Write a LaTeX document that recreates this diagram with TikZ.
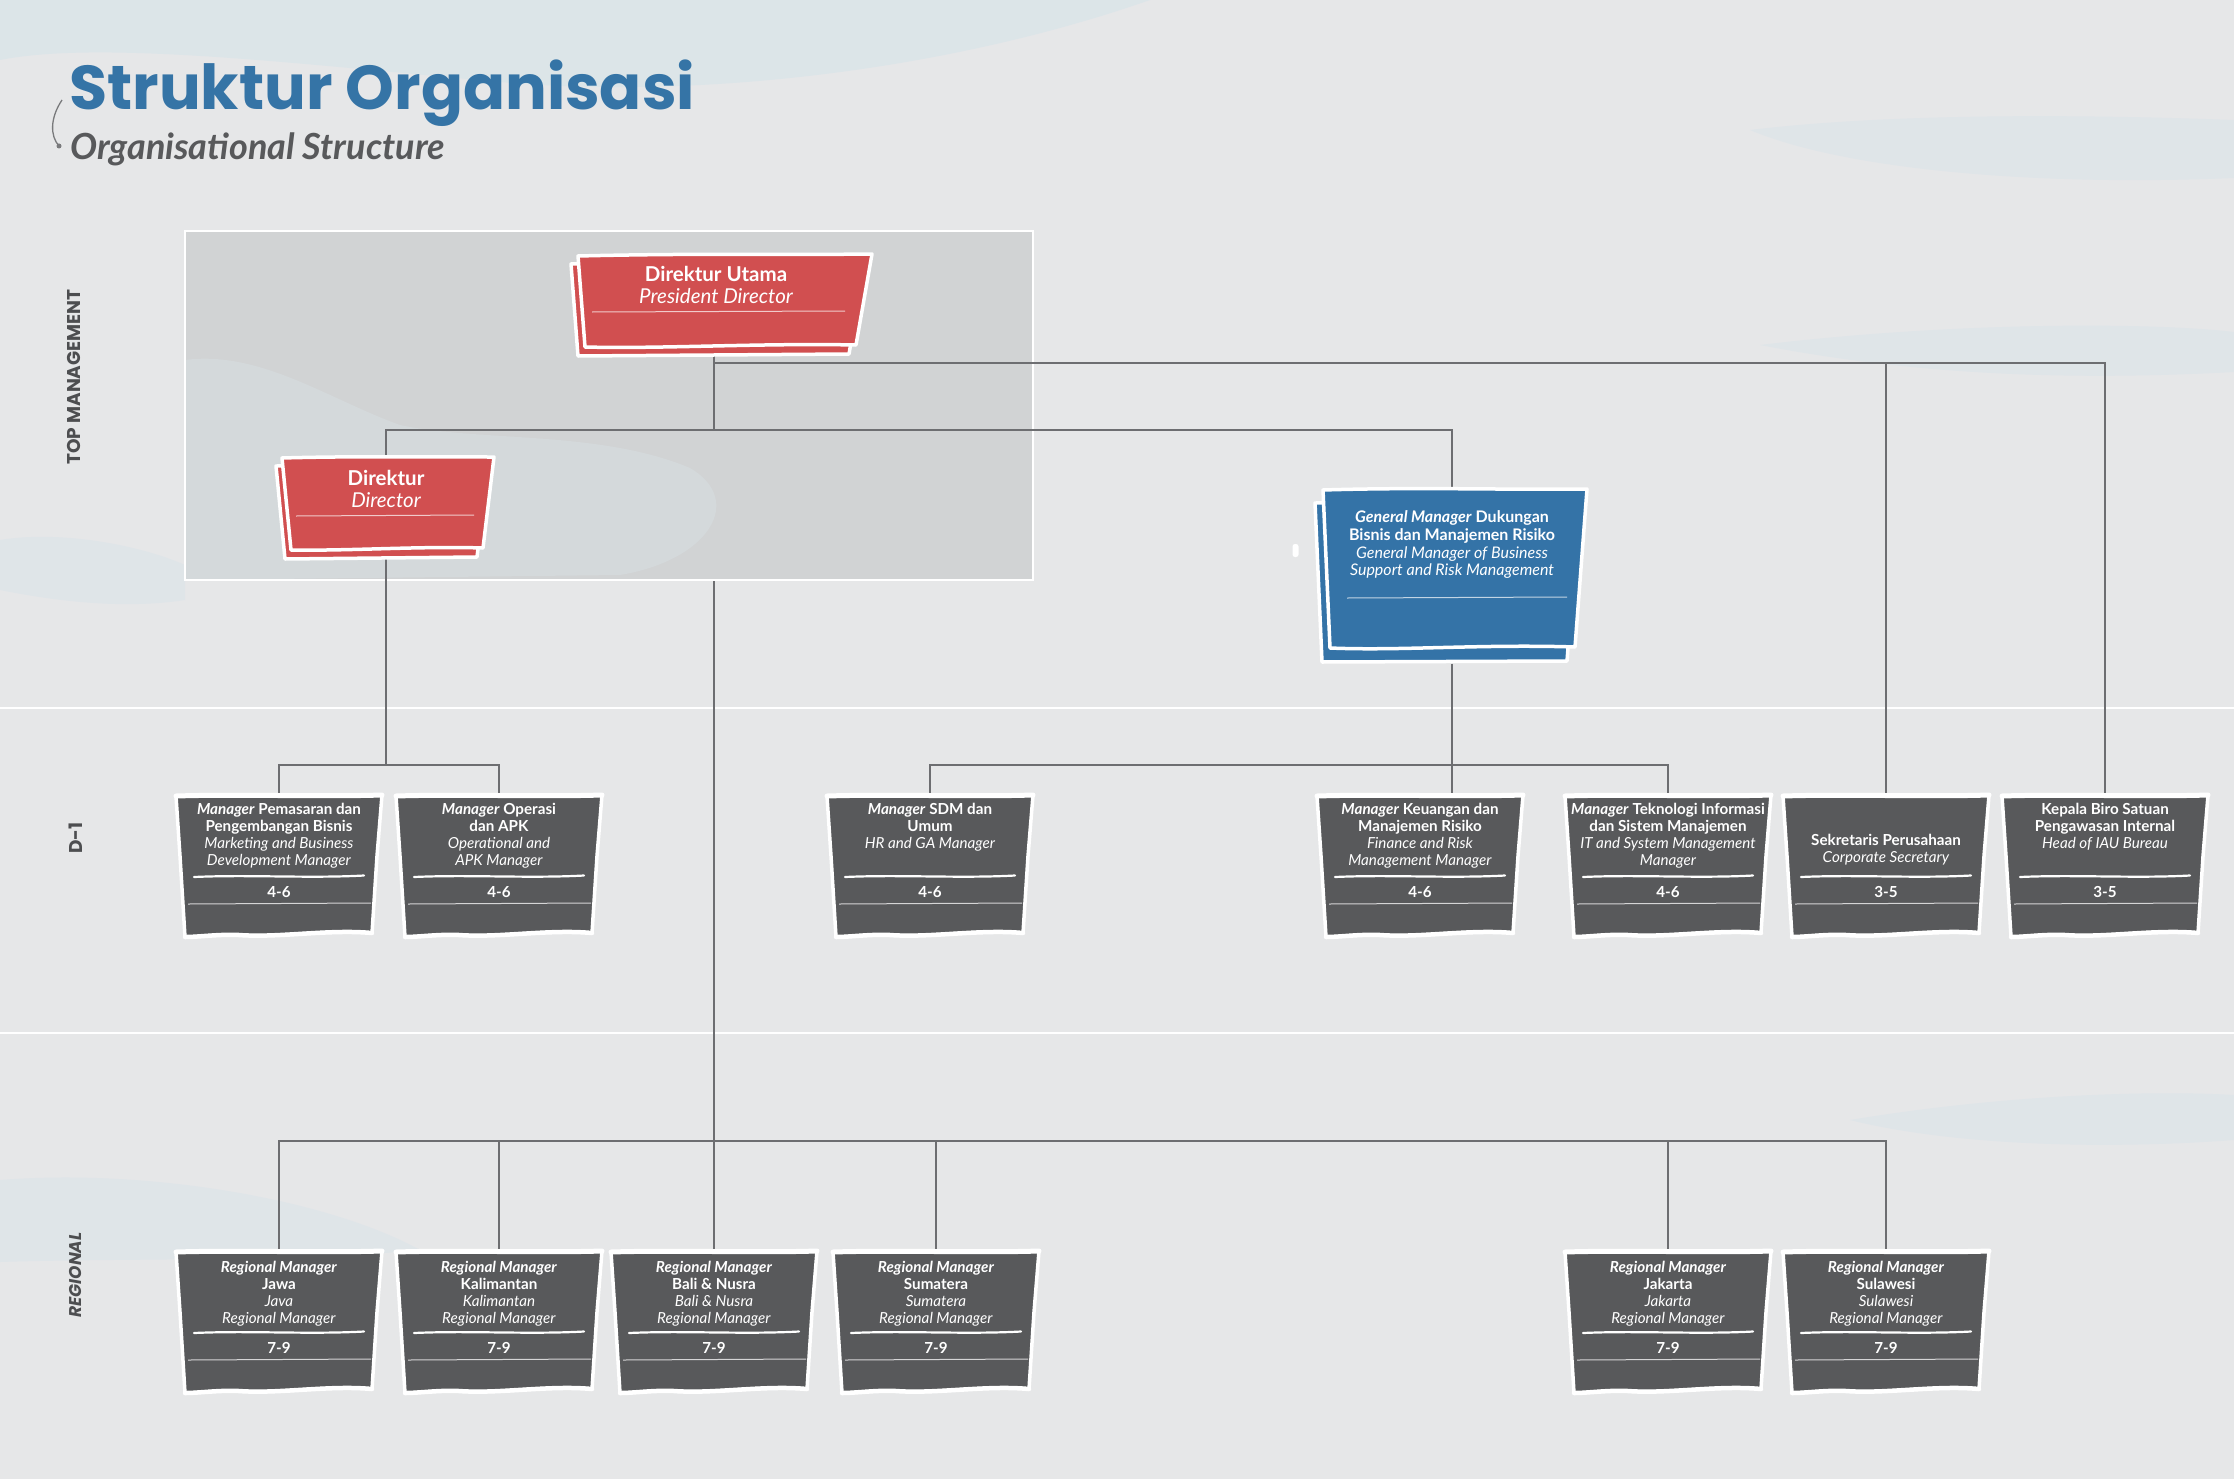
\documentclass[tikz,border=0pt]{standalone}
\usepackage{fontspec}
\setmainfont{Lato}
\newfontfamily\poppins{Poppins}
\definecolor{bgc}{HTML}{E6E7E8}
\definecolor{blobc}{HTML}{DCE5E8}
\definecolor{rectc}{HTML}{D1D3D4}
\definecolor{rectblob}{HTML}{D4D9DB}
\definecolor{redc}{HTML}{D14F50}
\definecolor{bluec}{HTML}{3473A7}
\definecolor{titleblue}{HTML}{3574A6}
\definecolor{boxdark}{HTML}{58595B}
\definecolor{txtgray}{HTML}{58595B}
\definecolor{labelgray}{HTML}{4D4E50}
\definecolor{linegray}{HTML}{6D6E71}
\pgfdeclarelayer{bgzero}
\pgfdeclarelayer{bgone}
\pgfdeclarelayer{lines}
\pgfsetlayers{bgzero,bgone,lines,main}
\tikzset{
  conn/.style={draw=linegray, line width=1.4bp},
  anchorbox/.style={inner sep=0, minimum width=204bp, minimum height=140bp, anchor=north, draw=none},
  btxt/.style={text=white, font=\fontsize{15.2bp}{17bp}\selectfont, align=center, inner sep=0, anchor=north},
  gradetxt/.style={text=white, font=\bfseries\fontsize{15.2bp}{17bp}\selectfont, inner sep=0},
  sidelabel/.style={text=labelgray, font=\poppins\bfseries\fontsize{18.5bp}{18.5bp}\selectfont, rotate=90, inner sep=0},
  whiteedge/.style={draw=white, line width=3.5bp, line join=round},
  bigtxt/.style={text=white, inner sep=0, anchor=base, font=\fontsize{20.5bp}{22bp}\selectfont},
}
% name, cx, top, text, grade, text offset
\newcommand\DarkBox[6]{%
\begin{scope}[shift={(#2,#3)}]
  \path[fill=boxdark, whiteedge]
    (-103,0) .. controls (-40,-2) and (40,1) .. (103,-1)
    -- (98,60) -- (93,137)
    .. controls (50,133) and (0,142) .. (-40,139)
    .. controls (-60,138) and (-80,141) .. (-94,141)
    -- (-99,60) -- cycle;
  \draw[white, line width=5bp, line cap=round]
    (-103,0) .. controls (-40,-2) and (40,1) .. (103,-1);
  \draw[white, line width=4.5bp, line cap=round]
    (93,137) .. controls (50,133) and (0,142) .. (-40,139)
    .. controls (-60,138) and (-80,141) .. (-94,141);
  \node[btxt] at (0,#6) {#4};
  \draw[white, line width=2.2bp, line cap=round]
    (-85,81) .. controls (-30,78.5) and (30,82.5) .. (85,79.5);
  \node[gradetxt] at (0,96) {#5};
  \draw[white!75!boxdark, line width=1bp] (-91,108) -- (92,107);
  \node[anchorbox] (#1) at (0,0) {};
\end{scope}}
\begin{document}
\begin{tikzpicture}[x=1bp,y=-1bp]
\useasboundingbox (0,0) rectangle (2234,1479);

\begin{pgfonlayer}{bgzero}
  \fill[bgc] (0,0) rectangle (2234,1479);
  \fill[blobc] (0,0) -- (1150,0) .. controls (950,70) and (700,100) .. (500,82)
     .. controls (300,64) and (100,40) .. (0,60) -- cycle;
  \fill[blobc!70!bgc] (1750,130) .. controls (1900,112) and (2100,115) .. (2234,120)
     -- (2234,178) .. controls (2050,186) and (1850,172) .. (1750,130) -- cycle;
  \fill[blobc!70!bgc] (1760,345) .. controls (1950,322) and (2150,322) .. (2234,332)
     -- (2234,372) .. controls (2050,382) and (1900,372) .. (1760,345) -- cycle;
  \fill[blobc!70!bgc] (0,540) .. controls (60,530) and (140,545) .. (185,565)
     -- (185,600) .. controls (120,610) and (50,600) .. (0,590) -- cycle;
  \fill[blobc!70!bgc] (0,1180) .. controls (150,1168) and (330,1200) .. (420,1250)
     .. controls (300,1262) and (120,1258) .. (0,1262) -- cycle;
  \fill[blobc!70!bgc] (1850,1120) .. controls (2000,1095) and (2150,1090) .. (2234,1095)
     -- (2234,1140) .. controls (2100,1150) and (1950,1145) .. (1850,1120) -- cycle;
  \draw[white, line width=2.5bp] (0,708) -- (2234,708);
  \draw[white, line width=2.5bp] (0,1033) -- (2234,1033);
\end{pgfonlayer}

% ---- nodes (anchors for connectors) ----
\node[inner sep=0, minimum width=290bp, minimum height=100bp] (du) at (714,304) {};
\node[inner sep=0, minimum width=210bp, minimum height=100bp] (dir) at (386,507) {};
\node[inner sep=0, minimum width=264bp, minimum height=175bp] (gm) at (1452,576) {};

% ---- D-1 boxes ----
\DarkBox{m1}{279}{796}{\textbf{\textit{Manager} Pemasaran dan}\\\textbf{Pengembangan Bisnis}\\\textit{Marketing and Business}\\\textit{Development Manager}}{4-6}{7}
\DarkBox{m2}{499}{796}{\textbf{\textit{Manager} Operasi}\\\textbf{dan APK}\\\textit{Operational and}\\\textit{APK Manager}}{4-6}{7}
\DarkBox{sdm}{930}{796}{\textbf{\textit{Manager} SDM dan}\\\textbf{Umum}\\\textit{HR and GA Manager}}{4-6}{7}
\DarkBox{keu}{1420}{796}{\textbf{\textit{Manager} Keuangan dan}\\\textbf{Manajemen Risiko}\\\textit{Finance and Risk}\\\textit{Management Manager}}{4-6}{7}
\DarkBox{ti}{1668}{796}{\textbf{\textit{Manager} Teknologi Informasi}\\\textbf{dan Sistem Manajemen}\\\textit{IT and System Management}\\\textit{Manager}}{4-6}{7}
\DarkBox{sek}{1886}{796}{\textbf{Sekretaris Perusahaan}\\\textit{Corporate Secretary}}{3-5}{38}
\DarkBox{kep}{2105}{796}{\textbf{Kepala Biro Satuan}\\\textbf{Pengawasan Internal}\\\textit{Head of IAU Bureau}}{3-5}{7}

% ---- Regional boxes ----
\DarkBox{r1}{279}{1252}{\textbf{\textit{Regional Manager}}\\\textbf{Jawa}\\\textit{Java}\\\textit{Regional Manager}}{7-9}{8.5}
\DarkBox{r2}{499}{1252}{\textbf{\textit{Regional Manager}}\\\textbf{Kalimantan}\\\textit{Kalimantan}\\\textit{Regional Manager}}{7-9}{8.5}
\DarkBox{r3}{714}{1252}{\textbf{\textit{Regional Manager}}\\\textbf{Bali \& Nusra}\\\textit{Bali \& Nusra}\\\textit{Regional Manager}}{7-9}{8.5}
\DarkBox{r4}{936}{1252}{\textbf{\textit{Regional Manager}}\\\textbf{Sumatera}\\\textit{Sumatera}\\\textit{Regional Manager}}{7-9}{8.5}
\DarkBox{r5}{1668}{1252}{\textbf{\textit{Regional Manager}}\\\textbf{Jakarta}\\\textit{Jakarta}\\\textit{Regional Manager}}{7-9}{8.5}
\DarkBox{r6}{1886}{1252}{\textbf{\textit{Regional Manager}}\\\textbf{Sulawesi}\\\textit{Sulawesi}\\\textit{Regional Manager}}{7-9}{8.5}

% ---- trunk (passes behind the top-management panel) ----
\begin{pgfonlayer}{bgzero}
  \draw[conn] (du.south) -- (r3.north);
\end{pgfonlayer}

% ---- top management panel ----
\begin{pgfonlayer}{bgone}
  \fill[rectc] (185,231) rectangle (1033,580);
  \begin{scope}
    \clip (185,231) rectangle (1033,580);
    \fill[rectblob] (185,360) .. controls (260,350) and (330,400) .. (400,425)
      .. controls (480,442) and (600,430) .. (690,468)
      .. controls (745,500) and (710,560) .. (620,575) -- (185,580) -- cycle;
  \end{scope}
  \draw[white, line width=2.2bp] (185,231) rectangle (1033,580);
\end{pgfonlayer}

% ---- connectors ----
\coordinate (busT) at (714,363);
\coordinate (busA) at (714,430);
\coordinate (busD) at (386,765);
\coordinate (busG) at (1452,765);
\coordinate (busR) at (714,1141);
\begin{pgfonlayer}{lines}
  \draw[conn] (du.south) -- (busA) -| (dir.north);
  \draw[conn] (busA) -| (gm.north);
  \draw[conn] (busT) -| (sek.north);
  \draw[conn] (busT) -| (kep.north);
  \draw[conn] (dir.south) -- (busD) -| (m1.north);
  \draw[conn] (busD) -| (m2.north);
  \draw[conn] (gm.south) -- (gm.south |- keu.north);
  \draw[conn] (busG) -| (sdm.north);
  \draw[conn] (busG) -| (ti.north);
  \draw[conn] (busR) -| (r1.north);
  \draw[conn] (busR) -| (r2.north);
  \draw[conn] (busR) -| (r4.north);
  \draw[conn] (busR) -| (r5.north);
  \draw[conn] (busR) -| (r6.north);
\end{pgfonlayer}

% ---- Direktur Utama ----
\path[fill=redc, whiteedge] (571,264) -- (865,262) -- (849,354) -- (578,356) -- cycle;
\path[fill=redc, whiteedge] (578,256) .. controls (700,253) and (800,255) .. (872,254)
   -- (856,345) .. controls (760,343) and (660,349) .. (585,347) -- cycle;
\node[bigtxt, font=\bfseries\fontsize{20.5bp}{22bp}\selectfont] (dutxt) at (716,281) {Direktur Utama};
\node[bigtxt, font=\itshape\fontsize{20.5bp}{22bp}\selectfont] (dutxtb) at (716,303) {President Director};
\draw[white!70!redc, line width=1bp] (592,312) -- (845,311);

% ---- Direktur ----
\path[fill=redc, whiteedge] (276,466) -- (488,465) -- (477,557) -- (285,559) -- cycle;
\path[fill=redc, whiteedge] (282,458) .. controls (350,456) and (430,457) .. (494,457)
   -- (483,548) .. controls (420,546) and (350,551) .. (291,550) -- cycle;
\node[bigtxt, font=\bfseries\fontsize{20.5bp}{22bp}\selectfont] (dirtxt) at (386,485) {Direktur};
\node[bigtxt, font=\itshape\fontsize{20.5bp}{22bp}\selectfont] (dirtxtb) at (386,507) {Director};
\draw[white!70!redc, line width=1bp] (296,516) -- (474,515);

% ---- General Manager ----
\path[fill=bluec, whiteedge] (1315,503) -- (1579,502) -- (1567,661) -- (1322,662) -- cycle;
\path[fill=bluec, whiteedge] (1323,490) .. controls (1420,487) and (1500,490) .. (1587,489)
   -- (1575,647) .. controls (1480,644) and (1400,651) .. (1330,648) -- cycle;
\node[text=white, inner sep=0, anchor=north, align=center,
  font=\fontsize{16bp}{17.8bp}\selectfont] (gmtxt) at (1452,510.5)
  {\textbf{\textit{General Manager} Dukungan}\\\textbf{Bisnis dan Manajemen Risiko}\\\textit{General Manager of Business}\\\textit{Support and Risk Management}};
\draw[white!70!bluec, line width=1bp] (1347,598) -- (1567,597);
\fill[white, rounded corners=2.5bp] (1292.5,544) rectangle (1298.5,557);

% ---- title ----
\node[anchor=base west, inner sep=0, text=titleblue,
  font=\poppins\bfseries\fontsize{62bp}{62bp}\selectfont] (title) at (69,110) {Struktur Organisasi};
\node[anchor=base west, inner sep=0, text=txtgray,
  font=\bfseries\itshape\fontsize{36bp}{36bp}\selectfont] (subtitle) at (70,160) {Organisational Structure};
\draw[txtgray!80, line width=1.3bp] (62,100) .. controls (50,118) and (50,136) .. (59,146);
\fill[txtgray!80] (59,146) circle (2.5bp);

% ---- side labels ----
\node[sidelabel] (lbtop) at (74,377) {TOP MANAGEMENT};
\node[sidelabel] (lbd) at (76,838) {D-1};
\node[sidelabel, font=\poppins\bfseries\itshape\fontsize{17bp}{17bp}\selectfont] (lbreg) at (76,1275) {REGIONAL};
\end{tikzpicture}
\end{document}
